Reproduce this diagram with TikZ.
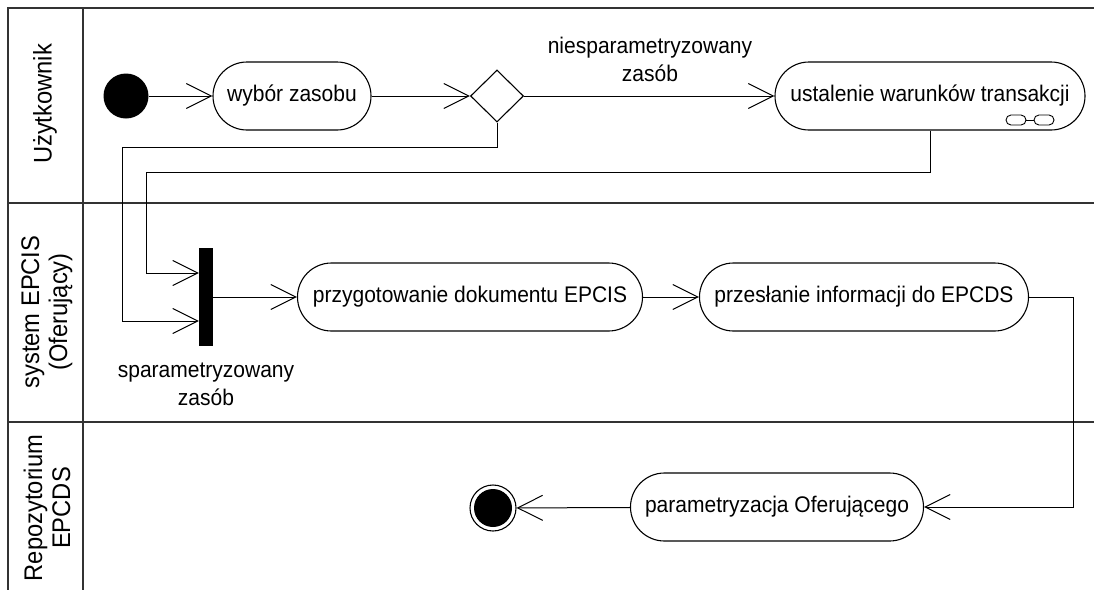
\documentclass[tikz,border=0pt]{standalone}
\usepackage{fontspec}
\setmainfont{Liberation Sans}[FakeStretch=0.93]
\usetikzlibrary{arrows.meta,shapes.geometric,calc}
\begin{document}
\begin{tikzpicture}[x=1pt,y=-1pt,
  lane/.style={draw=black!80, line width=1.6pt},
  act/.style={draw, line width=1.1pt, rounded corners=34pt, minimum height=68pt,
    inner sep=0pt, font=\fontsize{22.6}{26}\selectfont},
  flow/.style={draw, line width=1pt, -{Straight Barb[length=25pt,width=25pt,line width=1pt]}},
  txt/.style={font=\fontsize{22.6}{28}\selectfont, align=center, inner sep=0pt},
  title/.style={font=\fontsize{25.5}{28}\selectfont, align=center, inner sep=0pt, rotate=90},
]
\useasboundingbox (0,0) rectangle (1094,590);
\fill[white] (0,0) rectangle (1094,590);

% swimlane frame
\draw[lane] (1094,8) -- (8,8) -- (8,590);
\draw[lane] (83,8) -- (83,590);
\draw[lane] (8,203) -- (1094,203);
\draw[lane] (8,422) -- (1094,422);

% lane titles
\node[title] (l1) at (45,104) {Użytkownik};
\node[title] (l2) at (47,312) {system EPCIS\\(Oferujący)};
\node[title] (l3) at (47,508) {Repozytorium\\EPCDS};

% activity nodes
\node[circle, fill=black, minimum size=45pt, inner sep=0pt] (start) at (126,96) {};
\node[act, minimum width=158pt] (wyb) at (292,96) {wybór zasobu};
\node[diamond, draw, line width=1.1pt, minimum width=53pt, minimum height=52pt, inner sep=0pt] (dec) at (497,96) {};
\node[act, minimum width=310pt] (ust) at (930,96) {ustalenie warunków transakcji};
\node[fill=black, minimum width=14pt, minimum height=98pt, inner sep=0pt] (bar) at (206,297) {};
\node[act, minimum width=345pt] (pdok) at (470,297) {przygotowanie dokumentu EPCIS};
\node[act, minimum width=329pt] (pinf) at (864,297) {przesłanie informacji do EPCDS};
\node[act, minimum width=293pt] (par) at (777,507) {parametryzacja Oferującego};
\node[circle, draw, line width=1.1pt, fill=white, minimum size=46pt, inner sep=0pt] (end) at (493,508) {};
\node[circle, fill=black, minimum size=38pt, inner sep=0pt] (endin) at (end.center) {};

% sub-activity icon
\draw[line width=0.9pt, rounded corners=5pt] (1006,115) rectangle (1026,125);
\draw[line width=0.9pt, rounded corners=5pt] (1034,115) rectangle (1054,125);
\draw[line width=0.9pt] (1026,120) -- (1034,120);

% guard labels
\node[txt] (g1) at (650,59) {niesparametryzowany\\zasób};
\node[txt] (g2) at (206,384) {sparametryzowany\\zasób};

% control flows
\draw[flow] (start) -- (wyb);
\draw[flow] (wyb) -- (dec);
\draw[flow] (dec) -- (ust);
\draw[flow] (dec.south) |- (122,147) |- ([yshift=-24pt]bar.west);
\draw[flow] (ust.south) |- (146,172) |- ([yshift=24pt]bar.west);
\draw[flow] (bar.east) -- (pdok.west);
\draw[flow] (pdok) -- (pinf);
\draw[flow] (pinf.east) -- ++(44,0) |- (par.east);
\draw[flow] (par) -- (end);
\end{tikzpicture}
\end{document}
